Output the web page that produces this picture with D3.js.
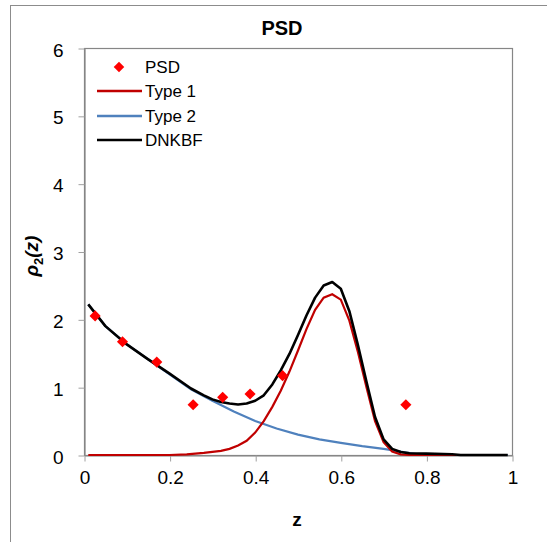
<!DOCTYPE html>
<html>
<head>
<meta charset="utf-8">
<script src="https://cdn.jsdelivr.net/npm/d3@7"></script>
<style>
  html, body { margin: 0; padding: 0; background: #fff; }
  svg { display: block; font-family: "Liberation Sans", Arial, sans-serif; }
</style>
</head>
<body>
<svg id="chart" width="547" height="542"></svg>
<script>
// PSD measurements (diamonds)
const psdZ = [0.026, 0.09, 0.17, 0.255, 0.324, 0.388, 0.464, 0.752];
const psdV = [2.05, 1.67, 1.37, 0.74, 0.85, 0.90, 1.17, 0.74];

// Type 1 component
const type1Z = [0.01, 0.1, 0.2, 0.24, 0.28, 0.32, 0.34, 0.36, 0.38, 0.40, 0.42, 0.44, 0.46, 0.48, 0.50,
                0.52, 0.54, 0.56, 0.58, 0.60, 0.62, 0.64, 0.66, 0.68, 0.70, 0.72, 0.74, 0.76, 0.87];
const type1V = [0, 0, 0, 0.01, 0.03, 0.06, 0.09, 0.14, 0.21, 0.33, 0.50, 0.71, 0.95, 1.23, 1.54,
                1.86, 2.14, 2.32, 2.37, 2.29, 1.98, 1.52, 1.00, 0.50, 0.19, 0.05, 0.01, 0, 0];

// Type 2 component
const type2Z = [0.01, 0.05, 0.1, 0.15, 0.2, 0.25, 0.3, 0.35, 0.4, 0.45, 0.5, 0.55, 0.6, 0.65, 0.7,
                0.75, 0.78, 0.8, 0.9, 0.99];
const type2V = [2.22, 1.90, 1.63, 1.41, 1.19, 0.97, 0.80, 0.64, 0.50, 0.39, 0.30, 0.23, 0.18, 0.13, 0.09,
                0.04, 0.01, 0, 0, 0];

// DNKBF fit
const dnkbfZ = [0.01, 0.05, 0.1, 0.15, 0.2, 0.25, 0.28, 0.3, 0.32, 0.34, 0.36, 0.38, 0.40, 0.42, 0.44,
                0.46, 0.48, 0.50, 0.52, 0.54, 0.56, 0.58, 0.60, 0.62, 0.64, 0.66, 0.68, 0.70, 0.72,
                0.74, 0.76, 0.80, 0.86, 0.88, 0.99];
const dnkbfV = [2.22, 1.90, 1.63, 1.41, 1.20, 0.98, 0.88, 0.82, 0.78, 0.76, 0.745, 0.76, 0.80, 0.88, 1.04,
                1.25, 1.49, 1.77, 2.06, 2.32, 2.50, 2.55, 2.45, 2.12, 1.62, 1.08, 0.56, 0.23, 0.09,
                0.045, 0.025, 0.02, 0.01, 0, 0];

const xTicks = [0, 0.2, 0.4, 0.6, 0.8, 1];
const xTickLabels = ["0", "0.2", "0.4", "0.6", "0.8", "1"];
const yTicks = [0, 1, 2, 3, 4, 5, 6];
const yTickLabels = ["0", "1", "2", "3", "4", "5", "6"];

const seriesNames = ["PSD", "Type 1", "Type 2", "DNKBF"];
const colors = { psd: "#FF0000", type1: "#C00000", type2: "#4F81BD", dnkbf: "#000000" };

const svg = d3.select("#chart");
const W = 547, H = 542;
const plot = { left: 84, right: 512, top: 48, bottom: 455 };

const x = d3.scaleLinear().domain([0, 1]).range([plot.left, plot.right]);
const y = d3.scaleLinear().domain([0, 6]).range([plot.bottom, plot.top]);

// chart area frame
svg.append("rect")
  .attr("x", 10.5).attr("y", 5.5)
  .attr("width", W).attr("height", H)
  .attr("fill", "#fff").attr("stroke", "#8c8c8c").attr("stroke-width", 1);

// title
svg.append("text")
  .attr("x", 282).attr("y", 35)
  .attr("text-anchor", "middle")
  .attr("font-size", 20).attr("font-weight", "bold")
  .text("PSD");

// plot frame
svg.append("rect")
  .attr("x", plot.left + 0.5).attr("y", plot.top + 0.5)
  .attr("width", plot.right - plot.left).attr("height", plot.bottom - plot.top)
  .attr("fill", "none").attr("stroke", "#868686").attr("stroke-width", 1.2);

// axes
const xAxis = d3.axisBottom(x).tickValues(xTicks)
  .tickFormat((d, i) => xTickLabels[i]).tickSize(6).tickSizeOuter(0);
const gx = svg.append("g").attr("transform", `translate(0.5,${plot.bottom + 0.5})`).call(xAxis);
gx.select(".domain").attr("stroke", "#868686").attr("stroke-width", 1.2);
gx.selectAll(".tick line").attr("stroke", "#a0a0a0");
gx.selectAll(".tick text").attr("font-size", 19).attr("fill", "#000")
  .attr("font-family", "Liberation Sans, Arial, sans-serif").attr("dy", "1.05em");

const yAxis = d3.axisLeft(y).tickValues(yTicks)
  .tickFormat((d, i) => yTickLabels[i]).tickSize(6).tickSizeOuter(0);
const gy = svg.append("g").attr("transform", `translate(${plot.left + 0.5},0.5)`).call(yAxis);
gy.select(".domain").attr("stroke", "#868686").attr("stroke-width", 1.2);
gy.selectAll(".tick line").attr("stroke", "#a0a0a0");
gy.selectAll(".tick text").attr("font-size", 19).attr("fill", "#000")
  .attr("font-family", "Liberation Sans, Arial, sans-serif").attr("x", -21).attr("dy", "0.4em");

// axis titles
svg.append("text")
  .attr("x", 297).attr("y", 526)
  .attr("text-anchor", "middle")
  .attr("font-size", 19).attr("font-weight", "bold")
  .text("z");

const yTitle = svg.append("text")
  .attr("transform", "translate(38,256) rotate(-90)")
  .attr("text-anchor", "middle")
  .attr("font-size", 19).attr("font-weight", "bold").attr("font-style", "italic");
yTitle.append("tspan").text("ρ");
yTitle.append("tspan").attr("font-size", 13).attr("font-style", "normal").attr("dy", 5).text("2");
yTitle.append("tspan").attr("dy", -5).text("(z)");

// curves
const line = d3.line().x(d => x(d[0])).y(d => y(d[1])).curve(d3.curveLinear);
const zipPts = (zs, vs) => zs.map((z, i) => [z, vs[i]]);

const g = svg.append("g");
g.append("path").datum(zipPts(type2Z, type2V))
  .attr("d", line).attr("fill", "none").attr("stroke", colors.type2).attr("stroke-width", 2.2);
g.append("path").datum(zipPts(type1Z, type1V))
  .attr("d", line).attr("fill", "none").attr("stroke", colors.type1).attr("stroke-width", 2.2);
g.append("path").datum(zipPts(dnkbfZ, dnkbfV))
  .attr("d", line).attr("fill", "none").attr("stroke", colors.dnkbf).attr("stroke-width", 2.6)
  .attr("stroke-linejoin", "round");

// PSD diamonds
const diamond = d3.symbol().type(d3.symbolSquare).size(62);
g.selectAll(".psd").data(zipPts(psdZ, psdV)).join("path")
  .attr("class", "psd")
  .attr("d", diamond)
  .attr("transform", d => `translate(${x(d[0])},${y(d[1])}) rotate(45)`)
  .attr("fill", colors.psd);

// legend
const legend = svg.append("g").attr("font-size", 17);
const legY = [67, 91, 116, 140];
seriesNames.forEach((name, i) => {
  const ly = legY[i];
  if (i === 0) {
    legend.append("path").attr("d", d3.symbol().type(d3.symbolSquare).size(56))
      .attr("transform", `translate(119,${ly}) rotate(45)`).attr("fill", colors.psd);
  } else {
    const c = [colors.type1, colors.type2, colors.dnkbf][i - 1];
    legend.append("line").attr("x1", 97).attr("x2", 142).attr("y1", ly).attr("y2", ly)
      .attr("stroke", c).attr("stroke-width", i === 3 ? 2.6 : 2.4);
  }
  legend.append("text").attr("x", 145).attr("y", ly).attr("dy", "0.36em").text(name);
});
</script>
</body>
</html>
